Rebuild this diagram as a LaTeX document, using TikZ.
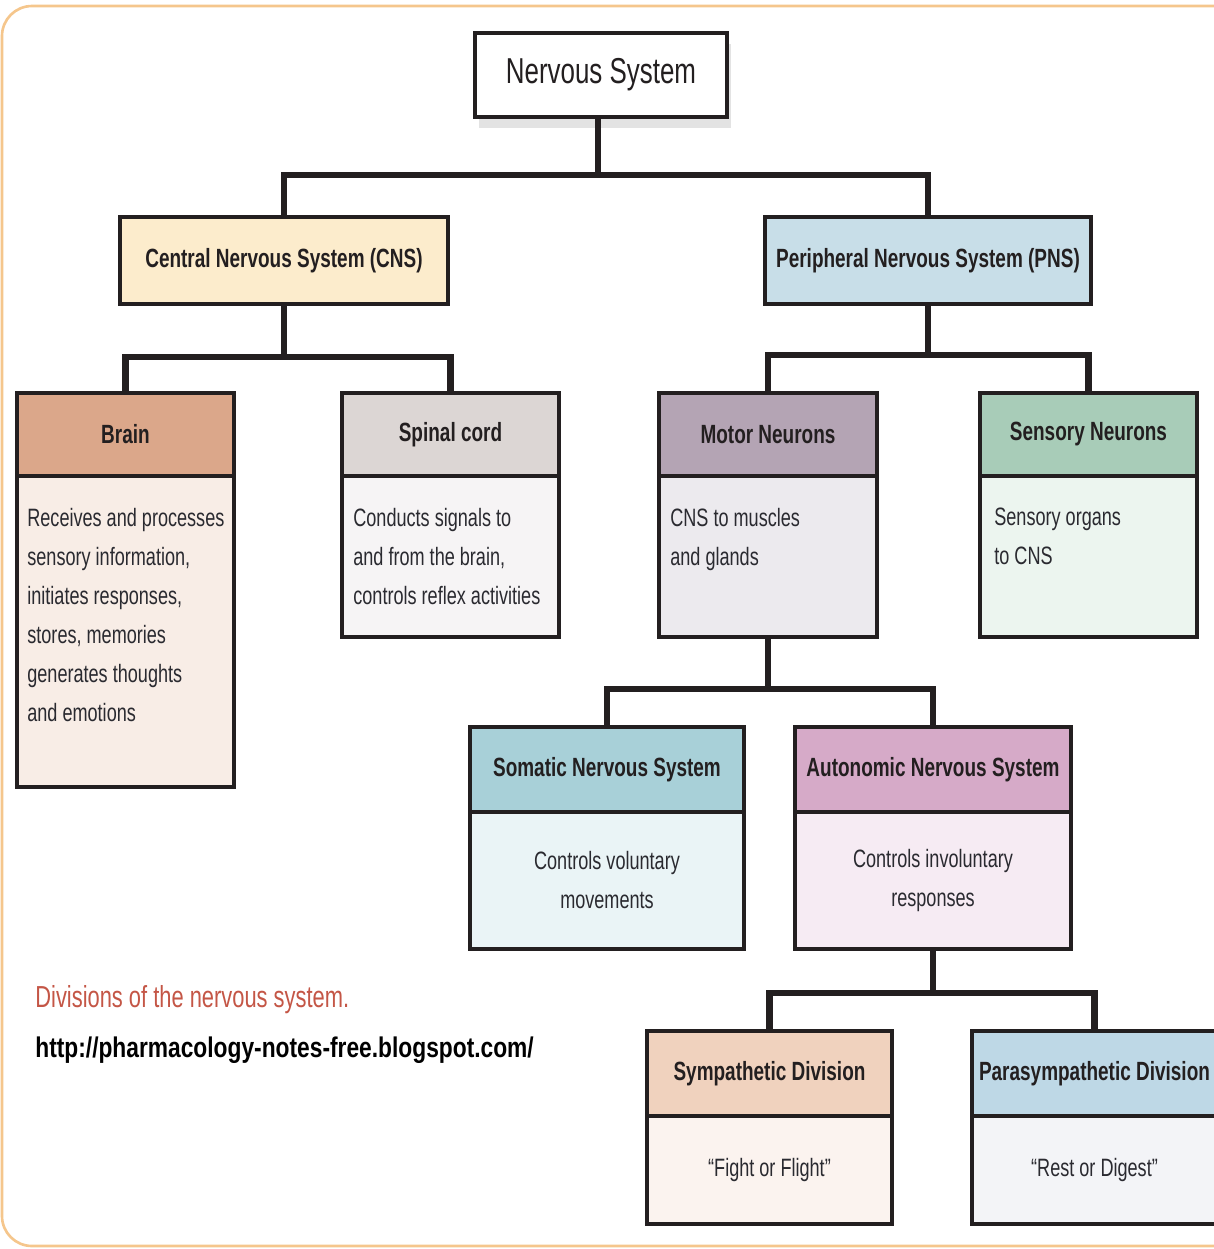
\documentclass[tikz,border=0pt]{standalone}
\usepackage{fontspec}
\newfontfamily\condfont[FakeStretch=0.72]{Liberation Sans}
\newfontfamily\linkfont[FakeStretch=0.8]{Liberation Sans}
\usepackage{tikz}
\usetikzlibrary{positioning,shadows,calc}

\definecolor{inkline}{RGB}{35,31,32}
\definecolor{bodytext}{RGB}{42,42,48}
\definecolor{framecol}{RGB}{245,198,140}
\definecolor{captred}{RGB}{196,86,70}
\definecolor{cnsfill}{RGB}{252,236,204}
\definecolor{pnsfill}{RGB}{200,222,232}
\definecolor{brainhead}{RGB}{219,167,138}
\definecolor{brainbody}{RGB}{248,237,230}
\definecolor{spinalhead}{RGB}{220,214,212}
\definecolor{spinalbody}{RGB}{246,244,245}
\definecolor{motorhead}{RGB}{180,164,180}
\definecolor{motorbody}{RGB}{236,234,238}
\definecolor{sensoryhead}{RGB}{168,204,184}
\definecolor{sensorybody}{RGB}{236,245,239}
\definecolor{somatichead}{RGB}{168,208,216}
\definecolor{somaticbody}{RGB}{234,244,246}
\definecolor{autohead}{RGB}{214,170,200}
\definecolor{autobody}{RGB}{246,235,243}
\definecolor{symphead}{RGB}{240,210,190}
\definecolor{sympbody}{RGB}{251,243,239}
\definecolor{parahead}{RGB}{190,216,230}
\definecolor{parabody}{RGB}{243,244,247}

\begin{document}
\begin{tikzpicture}[
  x=0.02cm, y=-0.02cm,
  hdr/.style={draw=inkline, line width=2.1pt, inner sep=0pt, outer sep=0pt,
    minimum height={83*0.02cm}, text=inkline,
    font=\condfont\bfseries\fontsize{15}{18}\selectfont},
  bdy/.style={draw=inkline, line width=2.1pt, inner sep=0pt, outer sep=0pt,
    align=center, text=bodytext,
    font=\condfont\fontsize{14.3}{22.2}\selectfont},
  btext/.style={anchor=north west, inner sep=0pt, align=left, text=bodytext,
    font=\condfont\fontsize{14.3}{22.2}\selectfont},
  link/.style={draw=inkline, line width=3.7pt},
]
\useasboundingbox (0,0) rectangle (1214,1249);

%% Frame round the figure
\draw[framecol, line width=1.5pt, rounded corners=0.6cm]
  (1260,6) -- (2,6) -- (2,1246) -- (1260,1246);

%% Level 1 and 2
\node[hdr, fill=white, minimum width={252*0.02cm}, minimum height={84*0.02cm},
      font=\condfont\fontsize{20.5}{24}\selectfont,
      drop shadow={shadow xshift=2pt, shadow yshift=-6pt, opacity=0.22}]
  (ns) at (601,75) {Nervous System};
\node[hdr, fill=cnsfill, minimum width={328*0.02cm}, minimum height={87*0.02cm}]
  (cns) at (284,260.5) {Central Nervous System (CNS)};
\node[hdr, fill=pnsfill, minimum width={326*0.02cm}, minimum height={87*0.02cm}]
  (pns) at (928,260.5) {Peripheral Nervous System (PNS)};

%% Level 3: header + body
\node[hdr, fill=brainhead, minimum width={217*0.02cm}] (brain) at (125.5,434.5) {Brain};
\node[bdy, fill=brainbody, minimum width={217*0.02cm}, minimum height={311*0.02cm},
      below=0pt of brain] (brainb) {};
\node[hdr, fill=spinalhead, minimum width={217*0.02cm}] (spinal) at (450.5,434.5) {Spinal cord};
\node[bdy, fill=spinalbody, minimum width={217*0.02cm}, minimum height={161*0.02cm},
      below=0pt of spinal] (spinalb) {};
\node[hdr, fill=motorhead, minimum width={218*0.02cm}] (motor) at (768,434.5) {Motor Neurons};
\node[bdy, fill=motorbody, minimum width={218*0.02cm}, minimum height={161*0.02cm},
      below=0pt of motor] (motorb) {};
\node[hdr, fill=sensoryhead, minimum width={217*0.02cm}] (sensory) at (1088.5,434.5) {Sensory Neurons};
\node[bdy, fill=sensorybody, minimum width={217*0.02cm}, minimum height={161*0.02cm},
      below=0pt of sensory] (sensoryb) {};

\node[btext] (braint) at ([xshift=0.2cm, yshift=-0.64cm]brainb.north west)
  {Receives and processes\\sensory information,\\initiates responses,\\stores, memories\\generates thoughts\\and emotions};
\node[btext] (spinalt) at ([xshift=0.22cm, yshift=-0.64cm]spinalb.north west)
  {Conducts signals to\\and from the brain,\\controls reflex activities};
\node[btext] (motort) at ([xshift=0.22cm, yshift=-0.64cm]motorb.north west)
  {CNS to muscles\\and glands};
\node[btext] (sensoryt) at ([xshift=0.28cm, yshift=-0.64cm]sensoryb.north west)
  {Sensory organs\\to CNS};

%% Level 4
\node[hdr, fill=somatichead, minimum width={274*0.02cm}, minimum height={85*0.02cm}]
  (somatic) at (607,769.5) {Somatic Nervous System};
\node[bdy, fill=somaticbody, minimum width={274*0.02cm}, minimum height={137*0.02cm},
      below=0pt of somatic] (somaticb) {Controls voluntary\\movements};
\node[hdr, fill=autohead, minimum width={276*0.02cm}, minimum height={85*0.02cm}]
  (auto) at (933,769.5) {Autonomic Nervous System};
\node[bdy, fill=autobody, minimum width={276*0.02cm}, minimum height={137*0.02cm},
      below=0pt of auto] (autob) {Controls involuntary\\responses};

%% Level 5
\node[hdr, fill=symphead, minimum width={245*0.02cm}, minimum height={85*0.02cm}]
  (symp) at (769.5,1073.5) {Sympathetic Division};
\node[bdy, fill=sympbody, minimum width={245*0.02cm}, minimum height={108*0.02cm},
      below=0pt of symp] (sympb) {“Fight or Flight”};
\node[hdr, fill=parahead, minimum width={245*0.02cm}, minimum height={85*0.02cm}]
  (para) at (1094.5,1073.5) {Parasympathetic Division};
\node[bdy, fill=parabody, minimum width={245*0.02cm}, minimum height={108*0.02cm},
      below=0pt of para] (parab) {“Rest or Digest”};

%% Connectors
\coordinate (nsfork) at (598,175);
\coordinate (cnsfork) at (284,357);
\coordinate (pnsfork) at (928,355);
\coordinate (motorfork) at (768,689);
\coordinate (autofork) at (933,993);
\draw[link] (nsfork |- ns.south) -- (nsfork);
\draw[link] (cns.north) |- (nsfork) -| (pns.north);
\draw[link] (cns.south) -- (cnsfork);
\draw[link] (brain.north) |- (cnsfork) -| (spinal.north);
\draw[link] (pns.south) -- (pnsfork);
\draw[link] (motor.north) |- (pnsfork) -| (sensory.north);
\draw[link] (motorb.south) -- (motorfork);
\draw[link] (somatic.north) |- (motorfork) -| (auto.north);
\draw[link] (autob.south) -- (autofork);
\draw[link] (symp.north) |- (autofork) -| (para.north);

%% Caption
\node[anchor=west, inner sep=0pt, text=captred,
      font=\condfont\fontsize{17.3}{20}\selectfont]
  (caption) at (35,1000) {Divisions of the nervous system.};
\node[anchor=west, inner sep=0pt, text=black,
      font=\linkfont\bfseries\fontsize{16.2}{20}\selectfont]
  (source) at (35,1050) {http://pharmacology-notes-free.blogspot.com/};

\end{tikzpicture}
\end{document}
